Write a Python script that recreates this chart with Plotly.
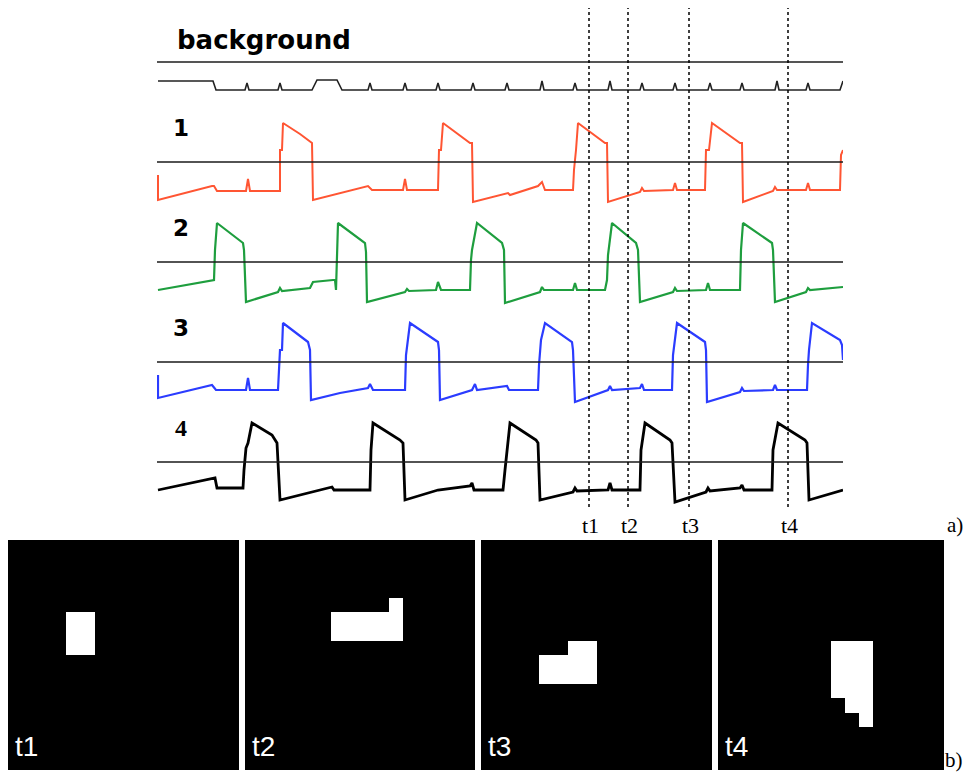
import plotly.graph_objects as go

# ---------------- data (time in arbitrary units, potential relative to each trace's reference line) -------------
bg_t = [1, 56, 59, 88, 90, 92, 121, 123, 125, 155, 160, 180, 185, 211, 213, 215, 246, 248, 250, 279, 281, 283,
        314, 316, 318, 348, 350, 352, 383, 385, 387, 416, 418, 420, 451, 453, 455, 483, 485, 487, 516, 518, 520,
        551, 553, 555, 583, 585, 587, 618, 620, 622, 649, 651, 653, 683, 686]
bg_v = [-19, -19, -28, -28, -21, -28, -28, -21, -28, -28, -18, -18, -28, -28, -21, -28, -28, -21, -28, -28, -21, -28,
        -28, -21, -28, -28, -21, -28, -28, -19, -28, -28, -21, -28, -28, -19, -28, -28, -21, -28, -28, -21, -28,
        -28, -21, -28, -28, -21, -28, -28, -19, -28, -28, -21, -28, -28, -19]

tr1_t = [1, 1, 55, 57, 60, 89, 91, 93, 123, 123, 125, 126, 143, 153, 155, 156, 183, 211, 215, 246, 248, 250, 281,
         282, 284, 286, 313, 315, 316, 351, 353, 381, 385, 388, 416, 417, 419, 421, 448, 450, 451, 483, 485, 487,
         516, 518, 520, 548, 549, 552, 555, 583, 585, 586, 616, 618, 620, 649, 651, 653, 683, 684, 686]
tr1_v = [-13, -38, -24, -24, -29, -29, -17, -29, -29, 12, 12, 39, 28, 20, 19, -38, -31, -24, -28, -28, -17, -28, -28,
         12, 12, 39, 19, 19, -40, -31, -33, -24, -20, -28, -28, -8, 12, 39, 19, 19, -40, -30, -26, -29,
         -28, -21, -28, -28, 12, 12, 39, 19, 19, -40, -29, -25, -28, -28, -21, -28, -28, 7, 12]

tr2_t = [1, 55, 57, 58, 59, 60, 86, 87, 89, 121, 123, 125, 153, 156, 176, 178, 179, 180, 181, 208, 209, 210, 248,
         250, 252, 279, 281, 284, 313, 314, 315, 320, 345, 347, 348, 383, 385, 387, 416, 418, 420, 448, 450, 451,
         453, 455, 479, 481, 483, 516, 518, 520, 549, 551, 553, 583, 584, 586, 615, 616, 618, 649, 651, 653, 686]
tr2_v = [-28, -18, -18, 12, 22, 39, 19, 12, -40, -30, -26, -29, -26, -20, -18, -18, -28, 12, 39, 19, 10, -40, -30,
         -27, -29, -28, -20, -28, -28, 2, 12, 39, 19, 12, -41, -30, -25, -28, -28, -21, -28, -28, -18, 7,
         22, 39, 19, 12, -40, -30, -26, -29, -28, -21, -28, -28, 12, 39, 19, 12, -40, -30, -26, -28, -25]

tr3_t = [1, 1, 55, 59, 89, 91, 93, 121, 122, 123, 125, 126, 151, 153, 154, 183, 211, 213, 216, 248, 249, 251, 253,
         281, 282, 283, 315, 318, 320, 350, 352, 381, 382, 384, 388, 415, 416, 418, 451, 453, 455, 483, 485, 487,
         515, 516, 518, 520, 548, 549, 550, 583, 585, 587, 616, 618, 620, 650, 651, 652, 655, 683, 685, 686]
tr3_v = [-13, -36, -23, -28, -28, -16, -28, -28, -8, 12, 12, 39, 20, 12, -38, -31, -26, -22, -28, -28, 7, 22, 39,
         20, 12, -38, -28, -22, -28, -24, -28, -28, -3, 22, 39, 20, 12, -40, -28, -24, -28, -26, -22, -28,
         -28, 7, 22, 39, 20, 12, -40, -30, -26, -29, -28, -23, -28, -28, -3, 12, 39, 22, 17, 2]

tr4_t = [1, 58, 60, 86, 87, 89, 91, 95, 115, 120, 123, 143, 175, 177, 213, 214, 216, 243, 246, 248, 281, 313, 315,
         317, 346, 348, 350, 353, 379, 381, 383, 416, 418, 420, 451, 453, 455, 483, 484, 488, 513, 515, 518, 549,
         551, 553, 583, 585, 587, 615, 616, 621, 648, 650, 652, 686]
tr4_v = [-28, -16, -26, -26, -8, 14, 19, 39, 27, 19, -38, -33, -25, -28, -28, 12, 39, 22, 19, -38, -28, -24, -21,
         -28, -28, -8, 12, 39, 22, 19, -38, -30, -26, -29, -28, -21, -28, -28, 12, 39, 22, 19, -40, -30,
         -26, -29, -26, -23, -28, -28, 12, 39, 22, 19, -38, -28]

trace_labels = ["1", "2", "3", "4"]
trace_colors = ["#FF5533", "#1E9E3E", "#2B3CFF", "#000000"]

mark_times = [432, 471, 532, 631]
mark_labels = ["t1", "t2", "t3", "t4"]

# 16x16 binary maps (row, col) of active cells at each marked time
grid_n = 16
cells_t1 = [(5, 4), (5, 5), (6, 4), (6, 5), (7, 4), (7, 5)]
cells_t2 = [(4, 10), (5, 6), (5, 7), (5, 8), (5, 9), (5, 10), (6, 6), (6, 7), (6, 8), (6, 9), (6, 10)]
cells_t3 = [(7, 6), (7, 7), (8, 4), (8, 5), (8, 6), (8, 7), (9, 4), (9, 5), (9, 6), (9, 7)]
cells_t4 = [(7, 8), (7, 9), (7, 10), (8, 8), (8, 9), (8, 10), (9, 8), (9, 9), (9, 10), (10, 8), (10, 9), (10, 10),
            (11, 9), (11, 10), (12, 10)]

# ---------------- layout helpers ----------------
OFF = 8                      # page margin around the plot div
W, H = 974 - OFF, 774 - OFF
def fx(p):
    return (p - OFF) / W
def fy(p):
    return 1 - (p - OFF) / H

fig = go.Figure()

t_end = 686
xdom = [fx(157), fx(843)]
baselines = [62, 162, 262, 362, 462]   # pixel row of each reference line
yaxes = ["y", "y2", "y3", "y4", "y5"]

series = [(bg_t, bg_v, "#222222", 1.6)]
series += [(tr1_t, tr1_v, trace_colors[0], 2.0), (tr2_t, tr2_v, trace_colors[1], 2.2),
           (tr3_t, tr3_v, trace_colors[2], 2.2), (tr4_t, tr4_v, trace_colors[3], 2.8)]

layout = dict(width=W, height=H, margin=dict(l=0, r=0, t=0, b=0),
              paper_bgcolor="white", plot_bgcolor="white", showlegend=False)
layout["xaxis"] = dict(domain=xdom, range=[0, t_end], visible=False, fixedrange=True)

for i, (b, ya, (tt, vv, col, w)) in enumerate(zip(baselines, yaxes, series)):
    key = "yaxis" if i == 0 else "yaxis%d" % (i + 1)
    layout[key] = dict(domain=[fy(b + 50), fy(b - 50)], range=[-50, 50], visible=False,
                       anchor="x", fixedrange=True)
    fig.add_trace(go.Scatter(x=tt, y=vv, mode="lines", xaxis="x", yaxis=ya,
                             line=dict(color=col, width=w), hoverinfo="skip"))

shapes = []
for i, ya in enumerate(yaxes):
    shapes.append(dict(type="line", xref="x", yref=ya, x0=0, x1=t_end, y0=0, y1=0,
                       line=dict(color="#555555" if i == 0 else "#1a1a1a", width=2 if i == 0 else 1.5)))
for tm in mark_times:
    shapes.append(dict(type="line", xref="x", yref="paper", x0=tm, x1=tm, y0=fy(507), y1=fy(5),
                       line=dict(color="black", width=1.5, dash="dot")))

annotations = []
annotations.append(dict(text="<b>background</b>", xref="paper", yref="paper", x=fx(175), y=fy(40),
                        xanchor="left", yanchor="middle", showarrow=False,
                        font=dict(family="DejaVu Sans", size=26, color="black")))
for i, lab in enumerate(trace_labels):
    fam = "Liberation Serif" if lab == "4" else "DejaVu Sans"
    annotations.append(dict(text="<b>%s</b>" % lab, xref="x", yref=yaxes[i + 1], x=24, y=34,
                            xanchor="center", yanchor="middle", showarrow=False,
                            font=dict(family=fam, size=23 if lab != "4" else 24, color="black")))
for tm, lab in zip(mark_times, mark_labels):
    annotations.append(dict(text=lab, xref="x", yref="paper", x=tm + 1, y=fy(525),
                            xanchor="center", yanchor="middle", showarrow=False,
                            font=dict(family="Liberation Serif", size=22, color="black")))
annotations.append(dict(text="a)", xref="paper", yref="paper", x=fx(965), y=fy(525), xanchor="right",
                        yanchor="middle", showarrow=False,
                        font=dict(family="Liberation Serif", size=21, color="black")))
annotations.append(dict(text="b)", xref="paper", yref="paper", x=fx(965), y=fy(760), xanchor="right",
                        yanchor="middle", showarrow=False,
                        font=dict(family="Liberation Serif", size=21, color="black")))

# ---------------- bottom binary maps ----------------
panel_x = [(8, 239), (245, 475), (481, 712), (718, 944)]
panel_y = (540, 770)
all_cells = [cells_t1, cells_t2, cells_t3, cells_t4]
for k, (cells, (x0, x1), lab) in enumerate(zip(all_cells, panel_x, mark_labels)):
    z = [[0] * grid_n for _ in range(grid_n)]
    for r, c in cells:
        z[r][c] = 1
    xa = "x%d" % (k + 2)
    ya = "y%d" % (k + 6)
    layout["xaxis%d" % (k + 2)] = dict(domain=[fx(x0), fx(x1)], range=[-0.5, grid_n - 0.5],
                                       visible=False, anchor=ya, fixedrange=True)
    layout["yaxis%d" % (k + 6)] = dict(domain=[fy(panel_y[1]), fy(panel_y[0])], range=[grid_n - 0.5, -0.5],
                                       visible=False, anchor=xa, fixedrange=True)
    fig.add_trace(go.Heatmap(z=z, x=list(range(grid_n)), y=list(range(grid_n)), xaxis=xa, yaxis=ya,
                             colorscale=[[0, "#000000"], [1, "#ffffff"]], zmin=0, zmax=1,
                             showscale=False, hoverinfo="skip", xgap=0, ygap=0))
    annotations.append(dict(text=lab, xref=xa, yref=ya, x=-0.5, y=grid_n - 0.5, xanchor="left",
                            yanchor="bottom", xshift=5, yshift=6, showarrow=False,
                            font=dict(family="Liberation Sans", size=28, color="white")))

layout["shapes"] = shapes
layout["annotations"] = annotations
fig.update_layout(**layout)
fig.write_html("out.html")
